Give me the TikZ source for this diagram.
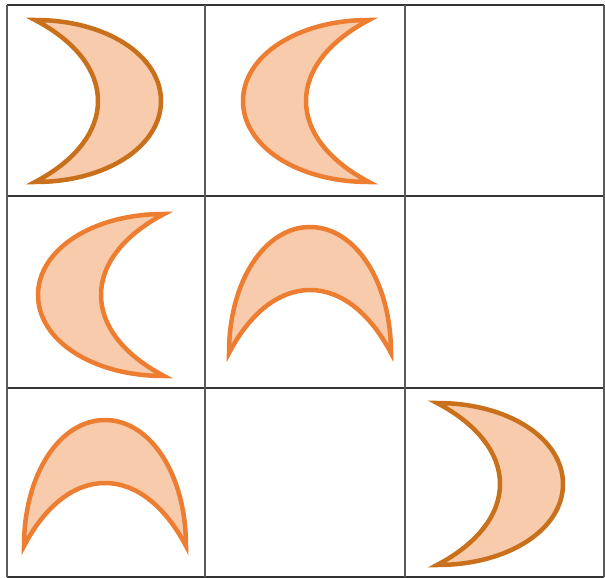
\documentclass[tikz,border=0pt]{standalone}
\definecolor{strokeA}{HTML}{C9701C}
\definecolor{strokeB}{HTML}{ED7D31}
\definecolor{fillC}{HTML}{F8CBAD}
\definecolor{gridH}{HTML}{333333}
\definecolor{gridV}{HTML}{5A5A5A}
\tikzset{
  crescent/.pic={
    \draw[pic actions] (6,-81) .. controls (78,-81) and (132,-45) .. (132,0)
      .. controls (132,45) and (78,81) .. (6,81)
      .. controls (46,60) and (69,31) .. (69,0)
      .. controls (69,-31) and (46,-60) .. cycle;
  },
  darkmoon/.style={draw=strokeA, fill=fillC, line width=4.5pt},
  lightmoon/.style={draw=strokeB, fill=fillC, line width=4.5pt},
  hline/.style={draw=gridH, line width=1.8pt},
  vline/.style={draw=gridV, line width=1.8pt}
}
\begin{document}
\begin{tikzpicture}[x=1pt,y=-1pt]
\useasboundingbox (0,0) rectangle (605,578);
\fill[white] (0,0) rectangle (605,578);
% grid
\foreach \yy in {5,196,388,577} \draw[hline] (7,\yy) -- (604,\yy);
\foreach \xx in {7,205,405,604} \draw[vline] (\xx,5) -- (\xx,577);
% crescents
\pic[darkmoon] at (29,101) {crescent};
\pic[lightmoon, rotate=180] at (375,101) {crescent};
\pic[lightmoon, rotate=180] at (170,295) {crescent};
\pic[lightmoon, rotate=90] at (310,359) {crescent};
\pic[lightmoon, rotate=90] at (105,552) {crescent};
\pic[darkmoon] at (431,484) {crescent};
\end{tikzpicture}
\end{document}
